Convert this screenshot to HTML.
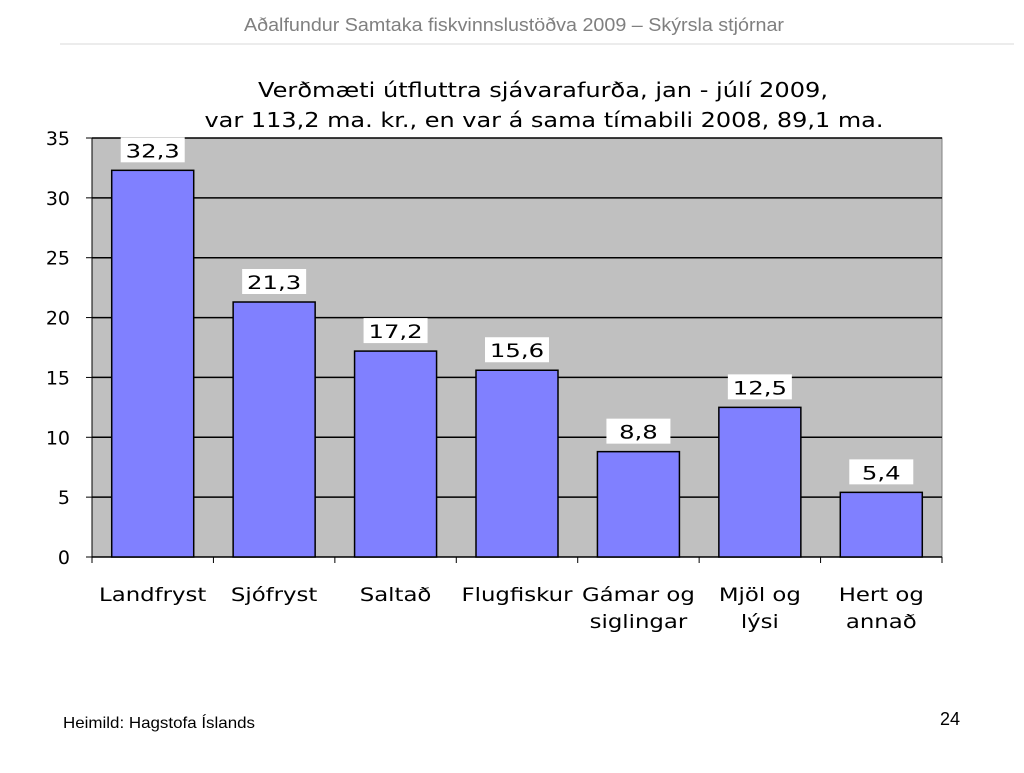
<!DOCTYPE html>
<html><head><meta charset="utf-8">
<style>
body{margin:0;background:#fff;width:1024px;height:768px;overflow:hidden;font-family:"Liberation Sans",sans-serif;}
</style></head>
<body>
<svg width="1024" height="768" xmlns="http://www.w3.org/2000/svg">
<text x="514" y="31" text-anchor="middle" font-size="18" textLength="540" lengthAdjust="spacingAndGlyphs" fill="#808080" font-family="Liberation Sans, sans-serif">Aðalfundur Samtaka fiskvinnslustöðva 2009 – Skýrsla stjórnar</text>
<line x1="60" y1="44" x2="1014" y2="44" stroke="#d8d8d8" stroke-width="1"/>
<g font-family="DejaVu Sans, sans-serif" font-size="20" fill="#000" text-anchor="middle">
<text x="543" y="97" textLength="570" lengthAdjust="spacingAndGlyphs">Verðmæti útfluttra sjávarafurða, jan - júlí 2009,</text>
<text x="544" y="127" textLength="679" lengthAdjust="spacingAndGlyphs">var 113,2 ma. kr., en var á sama tímabili 2008, 89,1 ma.</text>
</g>
<g id="chart"></g>
<text x="63" y="728" font-size="16" textLength="192" lengthAdjust="spacingAndGlyphs" font-family="Liberation Sans, sans-serif">Heimild: Hagstofa Íslands</text>
<text x="940" y="725" font-size="18" font-family="Liberation Sans, sans-serif">24</text>
</svg>
<script>
const categories=[["Landfryst"],["Sjófryst"],["Saltað"],["Flugfiskur"],["Gámar og","siglingar"],["Mjöl og","lýsi"],["Hert og","annað"]];
const values=[32.3,21.3,17.2,15.6,8.8,12.5,5.4];
const valueLabels=["32,3","21,3","17,2","15,6","8,8","12,5","5,4"];
const yTicks=[0,5,10,15,20,25,30,35];

const NS="http://www.w3.org/2000/svg";
const g=document.getElementById('chart');
const L=92,R=942,T=138,B=557,yMax=35;
const y=v=>B-(v/yMax)*(B-T);
const cw=(R-L)/categories.length;
const xc=i=>L+cw*(i+0.5);
function mk(t,a){const e=document.createElementNS(NS,t);for(const k in a)e.setAttribute(k,a[k]);g.appendChild(e);return e;}
function stretch(t,f){const w=t.getComputedTextLength();t.setAttribute('textLength',w*f);t.setAttribute('lengthAdjust','spacingAndGlyphs');}
let e=mk('rect',{x:L,y:T,width:R-L,height:B-T,fill:'#c0c0c0',stroke:'#808080'});


yTicks.forEach(v=>{
  const l=mk('line',{x1:L,x2:R,y1:y(v),y2:y(v),stroke:'#000','stroke-width':1.5});
  
  
  const tk=mk('line',{x1:L-6,x2:L,y1:y(v),y2:y(v),stroke:'#000'});
  
  
  const t=mk('text',{x:L-22,y:y(v)+7,'text-anchor':'end','font-size':19,'font-family':'DejaVu Sans, sans-serif'});
  t.textContent=v;
  
  
});
const ax=mk('line',{x1:L,x2:L,y1:T,y2:B,stroke:'#000'});


for(let i=0;i<=categories.length;i++){
  const tk=mk('line',{x1:L+cw*i,x2:L+cw*i,y1:B,y2:B+6,stroke:'#000'});
  
  
}
const bw=82;
values.forEach((v,i)=>{
  const r=mk('rect',{x:xc(i)-bw/2,y:y(v),width:bw,height:B-y(v),fill:'#8080ff',stroke:'#000','stroke-width':1.5});
  
  
  const bg=mk('rect',{x:xc(i)-32,y:y(v)-33,width:64,height:25,fill:'#fff'});
  
  
  const t=mk('text',{x:xc(i),y:y(v)-13,'text-anchor':'middle','font-size':19,'font-family':'DejaVu Sans, sans-serif'});
  t.textContent=valueLabels[i];
  
  
  stretch(t,1.28);
  categories[i].forEach((s,j)=>{
    const c=mk('text',{x:xc(i),y:601+j*27,'text-anchor':'middle','font-size':19,'font-family':'DejaVu Sans, sans-serif'});
    c.textContent=s;
    
    
    stretch(c,1.2);
  });
});
</script>
</body></html>
